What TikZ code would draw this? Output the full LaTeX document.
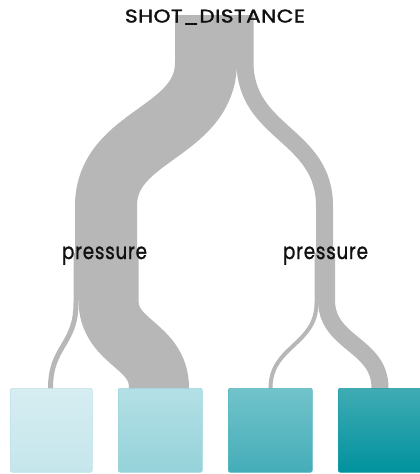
\documentclass[tikz,border=0pt]{standalone}
\usepackage{fontspec}
\setmainfont{Poppins}
\newfontfamily\titlefont[FakeBold=1.6, LetterSpace=2]{Poppins}
\newfontfamily\lblfont[FakeBold=1.2, LetterSpace=4]{Poppins}
\usepackage{graphicx}
\definecolor{bandgray}{HTML}{B7B7B7}
\definecolor{labelblack}{HTML}{111111}
\definecolor{leafAtop}{HTML}{D6EDF1}
\definecolor{leafAbot}{HTML}{C5E6EC}
\definecolor{leafAline}{HTML}{BCE2E9}
\definecolor{leafBtop}{HTML}{B3E0E6}
\definecolor{leafBbot}{HTML}{95D2D9}
\definecolor{leafBline}{HTML}{9FD6DD}
\definecolor{leafCtop}{HTML}{72C3CB}
\definecolor{leafCbot}{HTML}{44ADB8}
\definecolor{leafCline}{HTML}{5AB7C0}
\definecolor{leafDtop}{HTML}{40ABB3}
\definecolor{leafDbot}{HTML}{00929E}
\definecolor{leafDline}{HTML}{1C9EA8}
\begin{document}
\begin{tikzpicture}[x=1pt,y=-1pt,
  band/.style={draw=bandgray, line cap=butt, line join=round},
  leafbox/.style={rounded corners=2pt, line width=0.6pt, minimum width=#1, minimum height=84pt, anchor=north west, inner sep=0pt},
  lbl/.style={inner sep=0pt, text=labelblack, anchor=base}]
\useasboundingbox (0,0) rectangle (420,474);
\clip (0,0) rectangle (420,474);
% band end points
\coordinate (rootL) at (206,15);
\coordinate (rootR) at (245,15);
\coordinate (pOneIn) at (106,206);
\coordinate (pTwoIn) at (324.5,206);
\coordinate (pOneA) at (76,253);
\coordinate (pOneB) at (108.5,253);
\coordinate (pTwoA) at (316.5,253);
\coordinate (pTwoB) at (326.5,253);
\coordinate (leafOneIn) at (50.5,388);
\coordinate (leafTwoIn) at (159,388);
\coordinate (leafThreeIn) at (270.5,388);
\coordinate (leafFourIn) at (380,388);
% bands: root -> pressure nodes
\draw[band, line width=62pt] (rootL) -- ++(0,47) .. controls +(0,72) and +(0,-72) .. (pOneIn) -- ++(0,94);
\draw[band, line width=17pt] (rootR) -- ++(0,47) .. controls +(0,72) and +(0,-72) .. (pTwoIn) -- ++(0,94);
% bands: pressure nodes -> leaves
\draw[band, line width=5pt] (pOneA) -- ++(0,50) .. controls +(0,42) and +(0,-42) .. (leafOneIn) -- ++(0,4);
\draw[band, line width=60pt] (pOneB) -- ++(0,47) .. controls +(0,44) and +(0,-44) .. (leafTwoIn) -- ++(0,4);
\draw[band, line width=4pt] (pTwoA) -- ++(0,50) .. controls +(0,42) and +(0,-42) .. (leafThreeIn) -- ++(0,4);
\draw[band, line width=17pt] (pTwoB) -- ++(0,47) .. controls +(0,44) and +(0,-44) .. (leafFourIn) -- ++(0,4);
% leaves
\node[leafbox=82pt, top color=leafAtop, bottom color=leafAbot, draw=leafAline] (leafOne) at (10,388) {};
\node[leafbox=84pt, top color=leafBtop, bottom color=leafBbot, draw=leafBline] (leafTwo) at (118,388) {};
\node[leafbox=84pt, top color=leafCtop, bottom color=leafCbot, draw=leafCline] (leafThree) at (228,388) {};
\node[leafbox=84pt, top color=leafDtop, bottom color=leafDbot, draw=leafDline] (leafFour) at (338,388) {};
% labels
\node[lbl] (root) at (215,22.5) {\resizebox{180pt}{13pt}{\titlefont SHOT\_DISTANCE}};
\node[lbl] (pOne) at (104.5,259) {\resizebox{85pt}{12.5pt}{\lblfont pressure}};
\node[lbl] (pTwo) at (325.5,259) {\resizebox{85pt}{12.5pt}{\lblfont pressure}};
\end{tikzpicture}
\end{document}
